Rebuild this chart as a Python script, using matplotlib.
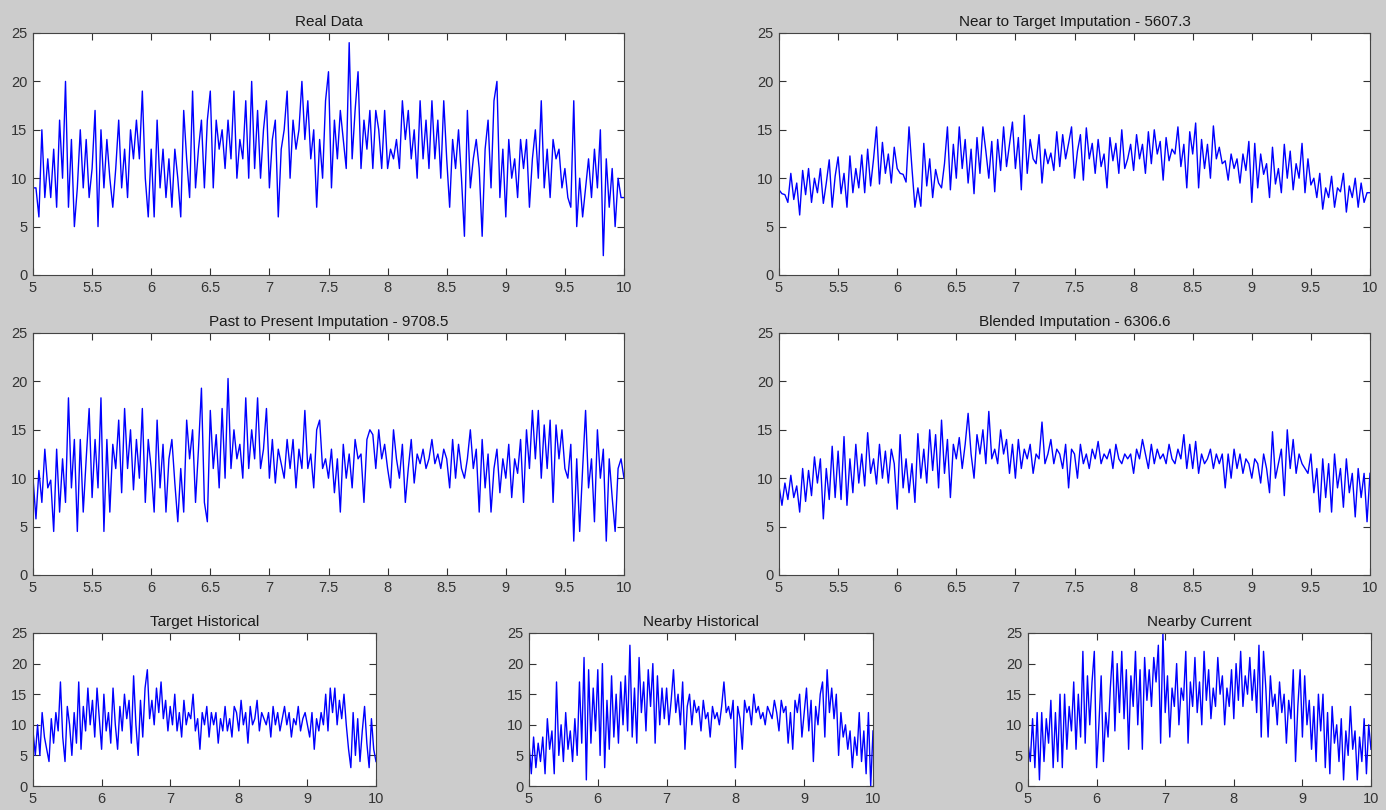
import numpy as np
import matplotlib
matplotlib.use('Agg')
import matplotlib.pyplot as plt

plt.rcParams['font.family'] = ['Liberation Sans', 'DejaVu Sans']

# time range of every panel
X_START, X_END = 5, 10

# Real Data
real_data = [
    9, 9, 6, 15, 8, 12, 8, 13, 7, 16, 10, 20, 7, 14, 5, 9, 15, 9, 14, 8,
    11, 17, 5, 15, 9, 14, 10, 7, 11, 16, 9, 13, 8, 15, 12, 16, 12, 19, 10, 6,
    13, 6, 16, 9, 13, 8, 12, 7, 13, 10, 6, 17, 12, 8, 19, 9, 13, 16, 9, 16,
    19, 9, 16, 13, 15, 11, 16, 12, 19, 10, 14, 12, 18, 10, 20, 11, 17, 10, 15, 18,
    9, 14, 16, 6, 13, 15, 19, 10, 16, 13, 15, 20, 14, 18, 12, 15, 7, 14, 10, 18,
    21, 9, 16, 12, 17, 14, 11, 24, 12, 17, 21, 11, 16, 13, 17, 11, 17, 15, 11, 17,
    11, 13, 12, 14, 11, 18, 14, 17, 12, 15, 10, 18, 12, 16, 11, 18, 12, 16, 10, 18,
    12, 7, 14, 11, 15, 10, 4, 17, 9, 12, 14, 11, 4, 13, 16, 9, 18, 20, 8, 13,
    6, 14, 10, 12, 8, 14, 11, 14, 7, 12, 15, 10, 18, 9, 13, 8, 14, 12, 13, 9,
    11, 8, 7, 18, 5, 10, 6, 9, 12, 8, 13, 9, 15, 2, 12, 7, 11, 5, 10, 8, 8,
]

# Near to Target Imputation
near_target = [
    8.8, 8.4, 8.3, 7.5, 10.5, 7.8, 9.5, 6.2, 10.8, 8.3, 11.0, 7.5, 10.0, 8.5, 11.0, 7.4, 9.5, 11.9, 7.0, 10.2,
    12.2, 8.4, 10.5, 7.0, 12.3, 8.5, 11.0, 9.0, 12.4, 8.5, 13.0, 9.2, 12.0, 15.3, 9.4, 13.7, 10.5, 12.5, 9.5, 13.2,
    11.0, 10.5, 10.4, 9.6, 15.3, 11.0, 7.0, 9.0, 7.1, 13.6, 9.2, 12.0, 8.0, 10.9, 9.5, 9.0, 11.5, 15.3, 8.8, 13.5,
    10.0, 15.3, 11.0, 14.0, 9.5, 13.0, 8.4, 14.2, 10.5, 15.3, 12.8, 10.0, 13.8, 8.6, 14.0, 10.8, 15.3, 11.2, 13.5, 15.8,
    11.0, 14.2, 8.8, 16.5, 10.5, 14.0, 12.0, 11.5, 14.5, 9.5, 13.0, 11.5, 12.6, 10.8, 14.8, 11.2, 14.5, 12.0, 13.6, 15.3,
    10.0, 12.8, 14.5, 9.8, 15.2, 12.0, 13.6, 10.5, 14.0, 11.2, 12.5, 9.0, 14.2, 11.8, 13.6, 10.5, 15.0, 11.0, 12.0, 13.5,
    10.8, 14.5, 12.0, 13.5, 10.5, 14.8, 11.5, 15.0, 12.5, 13.8, 9.8, 14.2, 11.8, 13.0, 12.5, 15.3, 11.2, 13.5, 9.0, 14.8,
    12.5, 15.7, 9.0, 14.0, 11.0, 13.5, 10.0, 15.4, 12.0, 13.2, 11.5, 11.8, 9.8, 12.5, 11.0, 12.0, 9.5, 12.5, 10.8, 13.8,
    7.5, 13.6, 9.0, 12.5, 10.4, 11.5, 8.0, 13.2, 9.4, 11.0, 8.5, 13.5, 10.0, 12.8, 8.8, 11.5, 10.0, 13.6, 8.5, 12.0,
    9.3, 10.0, 8.0, 10.5, 6.8, 9.0, 8.0, 10.2, 7.0, 9.0, 8.6, 10.5, 6.5, 9.2, 8.0, 10.0, 7.0, 9.5, 7.5, 8.5, 8.5,
]

# Past to Present Imputation
past_present = [
    10.0, 5.8, 10.8, 7.5, 13.0, 9.0, 9.8, 4.5, 13.0, 6.5, 12.0, 7.5, 18.3, 9.0, 14.0, 4.5, 14.0, 6.5, 12.0, 17.2,
    8.0, 14.0, 9.0, 18.3, 4.5, 14.0, 6.5, 13.5, 11.0, 16.0, 8.5, 17.2, 11.0, 15.0, 8.8, 14.0, 10.0, 17.2, 7.5, 14.0,
    11.0, 6.5, 16.0, 9.0, 13.5, 6.5, 12.0, 14.0, 9.5, 5.5, 11.0, 6.5, 16.0, 12.0, 15.0, 7.5, 13.0, 19.3, 7.5, 5.5,
    17.0, 11.0, 14.5, 9.0, 17.2, 10.0, 20.3, 11.0, 15.0, 12.0, 13.5, 10.0, 18.3, 11.0, 15.0, 12.0, 18.3, 11.0, 13.0, 17.2,
    10.0, 14.0, 9.5, 13.0, 11.5, 10.0, 14.0, 11.0, 14.0, 9.0, 13.0, 11.0, 17.0, 11.0, 12.5, 9.0, 15.0, 16.0, 11.0, 12.0,
    10.0, 13.0, 8.5, 12.0, 6.5, 13.5, 10.0, 12.5, 9.0, 14.0, 12.0, 12.5, 7.5, 14.0, 15.0, 14.5, 11.0, 15.0, 12.0, 13.5,
    11.0, 9.0, 15.0, 12.0, 10.0, 13.5, 7.5, 11.0, 14.0, 9.5, 12.5, 11.5, 13.0, 11.0, 12.0, 14.0, 11.5, 12.5, 11.0, 13.0,
    12.0, 9.0, 14.0, 10.0, 13.5, 11.0, 10.0, 12.0, 15.0, 11.0, 13.0, 6.5, 14.0, 9.0, 12.5, 6.5, 11.0, 13.0, 8.5, 12.0,
    10.0, 13.5, 8.0, 12.0, 10.5, 14.0, 7.5, 15.0, 11.0, 17.0, 12.0, 17.0, 10.0, 15.5, 11.0, 16.0, 7.5, 15.5, 12.0, 15.0,
    11.0, 10.0, 13.5, 3.5, 12.0, 4.5, 11.0, 17.0, 9.0, 12.0, 5.5, 15.0, 10.0, 13.0, 3.5, 12.0, 8.0, 4.5, 11.0, 12.0, 10.0,
]

# Blended Imputation
blended = [
    9.2, 7.2, 9.5, 7.8, 10.3, 8.0, 9.2, 6.5, 11.0, 7.6, 10.8, 8.2, 12.2, 9.5, 12.0, 5.8, 11.0, 7.8, 13.3, 8.0,
    12.8, 7.8, 14.3, 7.2, 12.0, 8.5, 13.5, 9.5, 12.5, 9.2, 14.7, 10.5, 12.0, 9.4, 13.5, 10.0, 12.8, 9.5, 13.0, 11.5,
    6.8, 14.5, 9.0, 12.0, 8.5, 11.5, 7.5, 14.6, 10.0, 13.0, 9.5, 15.0, 10.8, 14.5, 9.0, 16.0, 10.5, 14.0, 8.0, 13.5,
    12.0, 14.2, 11.0, 13.5, 16.7, 12.5, 10.0, 14.5, 12.5, 15.0, 11.5, 16.9, 12.0, 13.0, 11.5, 15.0, 12.5, 14.0, 10.5, 13.5,
    10.0, 14.0, 11.0, 13.0, 12.0, 13.5, 10.5, 12.5, 12.0, 15.8, 11.5, 12.5, 14.0, 11.5, 13.0, 12.5, 11.0, 13.5, 9.0, 13.0,
    12.5, 10.0, 13.5, 11.5, 12.5, 11.0, 13.0, 12.0, 13.8, 11.5, 12.5, 12.0, 13.0, 11.0, 13.5, 12.0, 11.5, 12.5, 12.0, 12.5,
    10.5, 13.0, 12.0, 14.0, 12.5, 11.0, 13.5, 11.5, 13.0, 12.0, 12.5, 11.5, 13.5, 12.0, 11.5, 13.0, 12.0, 14.5, 11.0, 13.5,
    11.0, 13.8, 10.5, 12.5, 11.5, 12.0, 13.0, 11.0, 12.5, 11.5, 12.5, 9.0, 12.5, 10.0, 13.0, 11.0, 12.5, 10.5, 12.0, 11.5,
    10.0, 12.0, 11.5, 9.5, 12.5, 11.0, 8.5, 14.8, 10.0, 11.5, 13.0, 8.2, 15.0, 11.0, 14.0, 10.5, 12.5, 11.5, 11.0, 10.5,
    12.5, 8.5, 11.0, 6.5, 12.0, 8.0, 11.5, 6.5, 12.5, 9.0, 11.0, 7.0, 12.0, 8.5, 10.5, 6.0, 11.0, 8.0, 10.5, 5.5, 10.5,
]

# Target Historical
target_hist = [
    9, 5, 10, 5, 12, 8, 6, 4, 11, 7, 12, 9, 17, 8, 4, 13, 10, 5, 12, 7, 17, 6, 13, 9, 16, 10, 14, 8, 16, 11,
    6, 15, 9, 12, 7, 16, 10, 6, 13, 9, 15, 11, 14, 7, 18, 10, 5, 14, 8, 16, 19, 11, 14, 10, 16, 12, 17, 11, 14, 9,
    13, 10, 15, 9, 12, 8, 14, 10, 12, 11, 15, 9, 11, 6, 12, 10, 13, 8, 12, 10, 12, 7, 11, 9, 13, 9, 11, 8, 13, 12,
    9, 14, 10, 12, 7, 13, 10, 11, 14, 9, 12, 11, 10, 12, 8, 13, 10, 12, 9, 11, 13, 10, 12, 8, 11, 10, 13, 9, 11, 12,
    10, 8, 12, 6, 11, 9, 12, 10, 15, 9, 16, 12, 16, 10, 14, 11, 15, 10, 6, 3, 12, 5, 11, 4, 9, 13, 7, 3, 11, 6, 4,
]

# Nearby Historical
nearby_hist = [
    7, 2, 8, 3, 7, 4, 8, 2, 11, 6, 9, 2, 17, 5, 10, 4, 12, 6, 9, 4, 11, 5, 17, 7, 21, 1, 19, 7, 16, 9,
    19, 5, 20, 3, 14, 6, 18, 8, 15, 7, 17, 10, 18, 9, 23, 8, 16, 7, 21, 12, 17, 9, 19, 13, 20, 7, 18, 10, 16, 11,
    16, 10, 14, 19, 12, 15, 10, 17, 6, 13, 15, 10, 14, 12, 13, 9, 14, 11, 12, 8, 13, 11, 12, 10, 13, 17, 12, 13, 11, 14,
    3, 13, 11, 6, 14, 12, 13, 10, 15, 12, 13, 11, 12, 10, 13, 12, 11, 14, 12, 9, 14, 12, 13, 7, 12, 6, 14, 12, 15, 8,
    12, 16, 9, 14, 4, 13, 10, 15, 17, 8, 19, 12, 16, 11, 15, 5, 12, 8, 10, 6, 9, 3, 8, 5, 12, 4, 9, 2, 12, 0, 9,
]

# Nearby Current
nearby_curr = [
    7, 4, 11, 3, 12, 1, 12, 4, 11, 7, 14, 3, 12, 4, 15, 3, 15, 6, 13, 9, 17, 6, 15, 8, 22, 7, 18, 10, 17, 22,
    3, 10, 18, 4, 12, 8, 16, 22, 9, 20, 12, 22, 11, 19, 6, 18, 13, 22, 10, 19, 6, 21, 14, 19, 13, 21, 17, 23, 7, 25,
    12, 18, 8, 16, 13, 20, 10, 16, 14, 22, 7, 17, 13, 21, 12, 17, 10, 22, 14, 19, 11, 16, 13, 21, 15, 18, 10, 16, 13, 19,
    11, 20, 14, 22, 13, 18, 15, 21, 14, 19, 12, 23, 8, 22, 16, 8, 18, 13, 15, 10, 17, 12, 15, 7, 14, 11, 19, 4, 13, 19,
    8, 18, 10, 14, 6, 13, 4, 15, 9, 15, 3, 12, 2, 13, 7, 10, 4, 11, 1, 9, 5, 13, 6, 9, 1, 8, 4, 11, 2, 10, 6,
]

titles = ['Real Data', 'Near to Target Imputation - 5607.3',
          'Past to Present Imputation - 9708.5', 'Blended Imputation - 6306.6',
          'Target Historical', 'Nearby Historical', 'Nearby Current']
series = [real_data, near_target, past_present, blended,
          target_hist, nearby_hist, nearby_curr]

# axes boxes in pixels: left, top, right, bottom (MATLAB-like layout)
W, H = 1386, 810
boxes = [(33, 33, 624, 275), (779, 33, 1370, 275),
         (33, 333, 624, 575), (779, 333, 1370, 575),
         (33, 633, 376, 786), (529, 633, 873, 786), (1028, 633, 1371, 786)]

fig = plt.figure(figsize=(W / 100, H / 100), dpi=100, facecolor='#cccccc')

for i, (t, y, b) in enumerate(zip(titles, series, boxes)):
    l, top, r, bot = b
    ax = fig.add_axes([l / W, 1 - bot / H, (r - l) / W, (bot - top) / H])
    x = np.linspace(X_START, X_END, len(y))
    ax.plot(x, y, color='#0000ff', lw=1.0)
    ax.set_xlim(X_START, X_END)
    ax.set_ylim(0, 25)
    ax.set_yticks([0, 5, 10, 15, 20, 25])
    if i < 4:
        ax.set_xticks(np.arange(5, 10.01, 0.5))
        ax.set_xticklabels(['5', '5.5', '6', '6.5', '7', '7.5', '8', '8.5', '9', '9.5', '10'])
    else:
        ax.set_xticks([5, 6, 7, 8, 9, 10])
    ax.tick_params(direction='in', top=True, right=True, length=5, width=0.8,
                   colors='#333333', labelsize=10.5, pad=4)
    for s in ax.spines.values():
        s.set_color('#444444')
        s.set_linewidth(0.8)
    ax.set_title(t, fontsize=11, color='#1a1a1a', pad=5)

fig.savefig('out.png', dpi=100, facecolor=fig.get_facecolor())
